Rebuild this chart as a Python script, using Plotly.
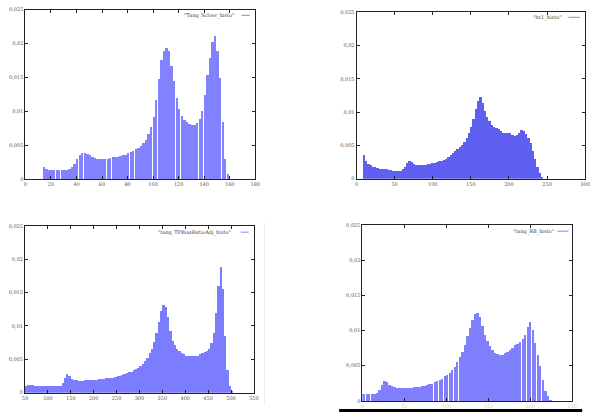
import plotly.graph_objects as go

# ---------------- data ----------------
p1_x = list(range(15, 161, 2))
p1_y = [0.0019, 0.0016, 0.0015, 0.0015, 0.00145, 0.00145, 0.00145, 0.00145, 0.00145, 0.0015,
        0.0016, 0.0019, 0.0024, 0.0030, 0.0036, 0.0040, 0.0040, 0.0038, 0.0036, 0.0034,
        0.0032, 0.0031, 0.0031, 0.0031, 0.0031, 0.0031, 0.0032, 0.0033, 0.0034, 0.0034,
        0.0035, 0.0036, 0.0037, 0.0039, 0.0041, 0.0043, 0.0045, 0.0047, 0.0050, 0.0054,
        0.0059, 0.0067, 0.0078, 0.0092, 0.0118, 0.0148, 0.0176, 0.0190, 0.0194, 0.0189,
        0.0168, 0.0146, 0.0121, 0.0104, 0.0094, 0.0088, 0.0085, 0.0082, 0.0080, 0.0081,
        0.0084, 0.0089, 0.0101, 0.0125, 0.0155, 0.0180, 0.0203, 0.0211, 0.0190, 0.0150,
        0.0085, 0.0030, 0.0008]

p2_x = list(range(9, 244, 3))
p2_y = [0.0035, 0.0026, 0.0022, 0.0020, 0.0018, 0.0017, 0.0016, 0.0015, 0.0015, 0.0014,
        0.0014, 0.0013, 0.0013, 0.0012, 0.0012, 0.0012, 0.0012, 0.0014, 0.0018, 0.0024,
        0.0027, 0.0025, 0.0022, 0.0021, 0.0021, 0.0021, 0.0021, 0.0021, 0.0022, 0.0022,
        0.0023, 0.0024, 0.0025, 0.0026, 0.0027, 0.0028, 0.0030, 0.0033, 0.0035, 0.0038,
        0.0041, 0.0044, 0.0047, 0.0051, 0.0055, 0.0061, 0.0068, 0.0077, 0.0090, 0.0104,
        0.0116, 0.0122, 0.0114, 0.0102, 0.0093, 0.0086, 0.0081, 0.0078, 0.0076, 0.0074,
        0.0071, 0.0069, 0.0068, 0.0068, 0.0068, 0.0066, 0.0064, 0.0065, 0.0068, 0.0073,
        0.0072, 0.0067, 0.0061, 0.0053, 0.0042, 0.0030, 0.0018, 0.0009, 0.0003]

p3_x = list(range(53, 504, 5))
p3_y = [0.0010, 0.0012, 0.0012, 0.0012, 0.0011, 0.0011, 0.0011, 0.0010, 0.0010, 0.0010,
        0.0010, 0.0010, 0.0010, 0.0010, 0.0010, 0.0010, 0.0015, 0.0023, 0.0029, 0.0025,
        0.0021, 0.0020, 0.0019, 0.0018, 0.0018, 0.0018, 0.0019, 0.0019, 0.0019, 0.0019,
        0.0020, 0.0020, 0.0021, 0.0021, 0.0021, 0.0022, 0.0022, 0.0023, 0.0023, 0.0024,
        0.0025, 0.0026, 0.0027, 0.0028, 0.0030, 0.0031, 0.0032, 0.0034, 0.0036, 0.0038,
        0.0041, 0.0044, 0.0048, 0.0053, 0.0059, 0.0066, 0.0076, 0.0090, 0.0106, 0.0123,
        0.0132, 0.0128, 0.0113, 0.0092, 0.0078, 0.0071, 0.0066, 0.0063, 0.0060, 0.0058,
        0.0056, 0.0055, 0.0055, 0.0055, 0.0055, 0.0056, 0.0058, 0.0059, 0.0061, 0.0063,
        0.0066, 0.0075, 0.0090, 0.0120, 0.0160, 0.0188, 0.0155, 0.0085, 0.0035, 0.0010,
        0.0002]

p4_x = list(range(0, 226, 3))
p4_y = [0.0010, 0.0010, 0.0010, 0.0010, 0.0010, 0.0010, 0.0012, 0.0016, 0.0023, 0.0028,
        0.0027, 0.0023, 0.0021, 0.0020, 0.0019, 0.0019, 0.0019, 0.0019, 0.0019, 0.0019,
        0.0019, 0.0020, 0.0020, 0.0020, 0.0021, 0.0022, 0.0023, 0.0024, 0.0025, 0.0027,
        0.0028, 0.0030, 0.0032, 0.0035, 0.0037, 0.0040, 0.0044, 0.0049, 0.0055, 0.0062,
        0.0070, 0.0080, 0.0092, 0.0104, 0.0115, 0.0123, 0.0125, 0.0119, 0.0107, 0.0094,
        0.0085, 0.0078, 0.0073, 0.0069, 0.0067, 0.0066, 0.0066, 0.0068, 0.0070, 0.0073,
        0.0076, 0.0079, 0.0081, 0.0084, 0.0088, 0.0094, 0.0105, 0.0112, 0.0101, 0.0082,
        0.0065, 0.0050, 0.0030, 0.0015, 0.0007, 0.0002]

names = ['"Tang_Sclver_histo"', '"hs1_histo"', '"tang_TPBiasRatioAdj_histo"', '"tang_RB_histo"']

y_tickvals = [0, 0.005, 0.01, 0.015, 0.02, 0.025]
y_ticktext = ["0", "0,005", "0,01", "0,015", "0,02", "0,025"]
x1_ticks = [0, 20, 40, 60, 80, 100, 120, 140, 160, 180]
x2_ticks = [0, 50, 100, 150, 200, 250, 300]
x3_ticks = [50, 100, 150, 200, 250, 300, 350, 400, 450, 500, 550]
x4_ticks = [0, 50, 100, 150, 200, 250]

# ---------------- layout helpers ----------------
W, H = 600, 419

def px_x(v):
    return v / W

def px_y(v):
    return 1 - v / H

panels = [
    # (x data, y data, bin width, bar fraction, color, xrange, xticks, box [l, r, t, b], tick label color)
    (p1_x, p1_y, 2, 0.72, "#8282ff", [0, 180], x1_ticks, [22.7, 255.7, 6.7, 179.0], "#555"),
    (p2_x, p2_y, 3, 1.0, "#5f5ff2", [0, 300], x2_ticks, [358.3, 590.0, 9.3, 178.3], "#555"),
    (p3_x, p3_y, 5, 0.8, "#7c7cff", [50, 550], x3_ticks, [22.3, 254.3, 226.0, 395.3], "#555"),
    (p4_x, p4_y, 3, 0.74, "#8080ff", [0, 250], x4_ticks, [364.3, 576.7, 225.0, 403.7], "#cfcfcf"),
]

fig = go.Figure()
layout = dict(width=W, height=H, autosize=False,
              margin=dict(l=0, r=0, t=0, b=0),
              paper_bgcolor="white", plot_bgcolor="white",
              showlegend=False, bargap=0)

annotations = []
shapes = []

for i, (xs, ys, bw, frac, col, xr, xt, box, tcol) in enumerate(panels):
    n = i + 1
    xa = "x" if n == 1 else f"x{n}"
    ya = "y" if n == 1 else f"y{n}"
    fig.add_trace(go.Bar(x=xs, y=ys, width=bw * frac, marker=dict(color=col, line=dict(width=0)),
                         xaxis=xa, yaxis=ya, name=names[i]))
    l, r, t, b = box
    xkey = "xaxis" if n == 1 else f"xaxis{n}"
    ykey = "yaxis" if n == 1 else f"yaxis{n}"
    layout[xkey] = dict(domain=[px_x(l), px_x(r)], range=xr, anchor=ya,
                        tickmode="array", tickvals=xt, ticktext=[str(v) for v in xt],
                        ticks="inside", ticklen=3, tickcolor="#222", tickwidth=1,
                        showline=True, linecolor="#222", linewidth=1, mirror="ticks",
                        showgrid=False, zeroline=False,
                        tickfont=dict(size=5, color=tcol, family="DejaVu Serif"))
    layout[ykey] = dict(domain=[px_y(b), px_y(t)], range=[0, 0.025], anchor=xa,
                        tickmode="array", tickvals=y_tickvals, ticktext=y_ticktext,
                        ticks="inside", ticklen=3, tickcolor="#222", tickwidth=1,
                        showline=True, linecolor="#222", linewidth=1, mirror="ticks",
                        showgrid=False, zeroline=False,
                        tickfont=dict(size=5, color="#555", family="DejaVu Serif"))

# legend texts + sample lines (gnuplot style key, top-right inside each plot)
legend_pos = [
    # text right edge x, text y, line x0, line x1
    (236, 12.5, 242, 250),
    (568, 14.5, 573, 585),
    (233, 232.5, 241, 249),
    (560, 231.5, 562, 573),
]
for i, (tx, ty, lx0, lx1) in enumerate(legend_pos):
    annotations.append(dict(x=px_x(tx), y=px_y(ty), xref="paper", yref="paper",
                            text=names[i], showarrow=False, xanchor="right", yanchor="middle",
                            font=dict(size=5, color="#444", family="DejaVu Serif")))
    shapes.append(dict(type="line", xref="paper", yref="paper",
                       x0=px_x(lx0), x1=px_x(lx1), y0=px_y(ty), y1=px_y(ty),
                       line=dict(color="#8585ff", width=1)))

# scan artifacts: black bar under bottom-right plot, faint line right of bottom-left plot
shapes.append(dict(type="rect", xref="paper", yref="paper",
                   x0=px_x(340.7), x1=px_x(587), y0=px_y(415), y1=px_y(412),
                   fillcolor="black", line=dict(width=0)))
shapes.append(dict(type="line", xref="paper", yref="paper",
                   x0=px_x(265), x1=px_x(265), y0=px_y(223), y1=px_y(408),
                   line=dict(color="#eeeeee", width=1)))

layout["annotations"] = annotations
layout["shapes"] = shapes
fig.update_layout(**layout)

fig.write_html("out.html", config={"displayModeBar": False},
               post_script="document.body.style.margin='0px';document.body.style.padding='0px';")
